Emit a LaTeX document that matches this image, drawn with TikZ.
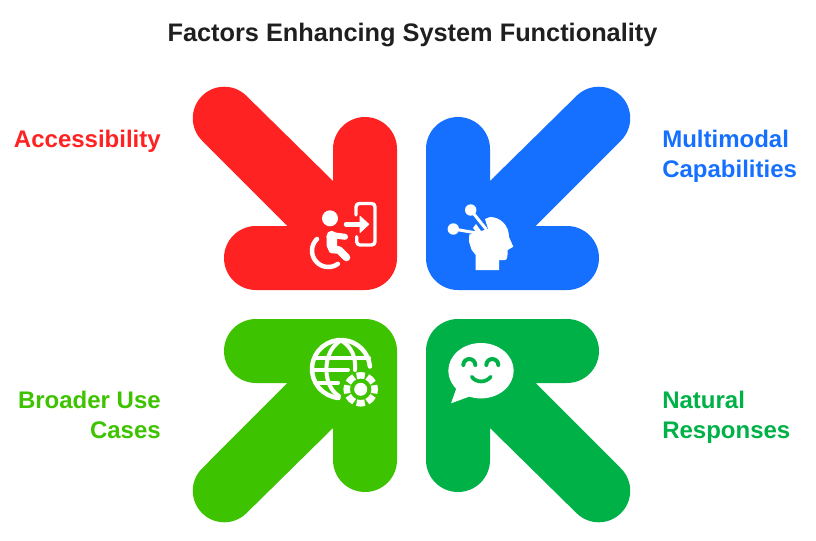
\documentclass[tikz,border=0pt]{standalone}
\usepackage{fontspec}
\setmainfont{Liberation Sans}
\definecolor{redc}{HTML}{FF2222}
\definecolor{bluec}{HTML}{1570FF}
\definecolor{limec}{HTML}{3EC300}
\definecolor{greenc}{HTML}{00B147}
\definecolor{titlec}{HTML}{1F1F1F}
\def\arrowpath{(-78.5,-123.5) -- (-78.5,-155.5) arc (180:360:32) -- (-14.5,-46.5) arc (0:90:32)
    -- (-155.5,-14.5) arc (90:270:32) -- (-124.2,-78.5) -- (-209.5,-164) arc (135:315:31.5) -- cycle}
\tikzset{
    heading/.style={font=\bfseries\fontsize{19}{23}\selectfont,text=titlec,inner sep=0pt},
    caption/.style={font=\bfseries\fontsize{18}{22.5}\selectfont,inner sep=0pt},
    iconline/.style={draw=white,line cap=round,line join=round,line width=#1*0.75pt}
}
\begin{document}
\begin{tikzpicture}[x=0.75pt,y=-0.75pt]
    \useasboundingbox (0,0) rectangle (816,540);
    \node[heading,anchor=base] (title) at (412.5,41) {Factors Enhancing System Functionality};
    \foreach \mx/\my/\col in {1/1/redc,-1/1/bluec,1/-1/limec,-1/-1/greenc}
        \fill[\col,shift={(411.5,304.5)},xscale=\mx,yscale=\my] \arrowpath;
    \node[caption,text=redc,anchor=east] (access) at (161,141) {Accessibility};
    \node[caption,text=bluec,anchor=west,align=left] (multi) at (662,156) {Multimodal\\Capabilities};
    \node[caption,text=limec,anchor=east,align=right] (broader) at (161,415) {Broader Use\\Cases};
    \node[caption,text=greenc,anchor=west,align=left] (natural) at (662,417) {Natural\\Responses};
    % wheelchair and door
    \fill[white] (330,218.3) circle (8);
    \draw[iconline=4.5] (328.3,250.7) ++(226:16.3) arc (226:54:16.3);
    \draw[iconline=10.5] (331.7,236) -- (332,246);
    \draw[iconline=7.5] (332,249.5) -- (339,250) -- (346.5,257.5);
    \draw[iconline=6] (335,235.5) -- (345,236.8);
    \draw[iconline=3.4,rounded corners=2.5] (356,215) -- (356,203.5) -- (375,203.5) -- (375,245) -- (356.7,245) -- (356.7,236.7);
    \draw[iconline=4.5] (346,224.3) -- (362,224.3);
    \fill[white,draw=white,line join=round] (360,216) -- (369,224.3) -- (360,232.7) -- cycle;
    % head
    \fill[white] (475.7,270) -- (499,270) -- (499,260) -- (505,260) .. controls (507,260) and (507.7,257) .. (507.7,250)
        -- (513.3,246.7) -- (509,237) .. controls (509,225) and (500,217) .. (490,217) -- (485,219) -- (488,229)
        -- (481,231) -- (476,224) -- (473,228) -- (476.7,233) -- (469.3,234.5) -- (469,241.7) -- (471.7,250)
        -- (475.7,255) -- cycle;
    \fill[white] (470.7,210) circle (5.7);
    \fill[white] (453.3,229) circle (5.7);
    \draw[iconline=3] (470.7,210) -- (486,229);
    \draw[iconline=3] (453.3,229) -- (477,233);
    % globe and gear
    \draw[iconline=4.5] (341,369) ++(95:29) arc (95:355:29);
    \draw[iconline=4] (340,341) .. controls (322,352) and (322,386) .. (339,396);
    \draw[iconline=4] (342,341) .. controls (352,347) and (356,358) .. (355,370);
    \draw[iconline=4] (316,358.3) -- (369,358.3);
    \draw[iconline=4] (315,370) -- (348,370);
    \draw[iconline=4] (317,382.7) -- (338,382.7);
    \fill[white] (360.7,389.3) circle (6.5);
    \foreach \a in {0,45,...,315}
        \draw[white,line width=4.9pt] (360.7,389.3) ++(\a-17:14) arc (\a-17:\a+17:14);
    % speech bubble
    \fill[white] (481,370.7) ellipse (32.7 and 27.7);
    \fill[white,draw=white,line join=round] (456.7,388.3) -- (451.5,402.8) -- (470,396) -- cycle;
    \foreach \ex in {469.3,492.3}
        \draw[greenc,line width=3pt,line cap=round] (\ex,365) ++(180:6) arc (180:360:6);
    \draw[greenc,line width=2.8pt,line cap=round] (471.7,376.7) .. controls (476,383) and (486,383) .. (490.7,376.7);
\end{tikzpicture}
\end{document}
